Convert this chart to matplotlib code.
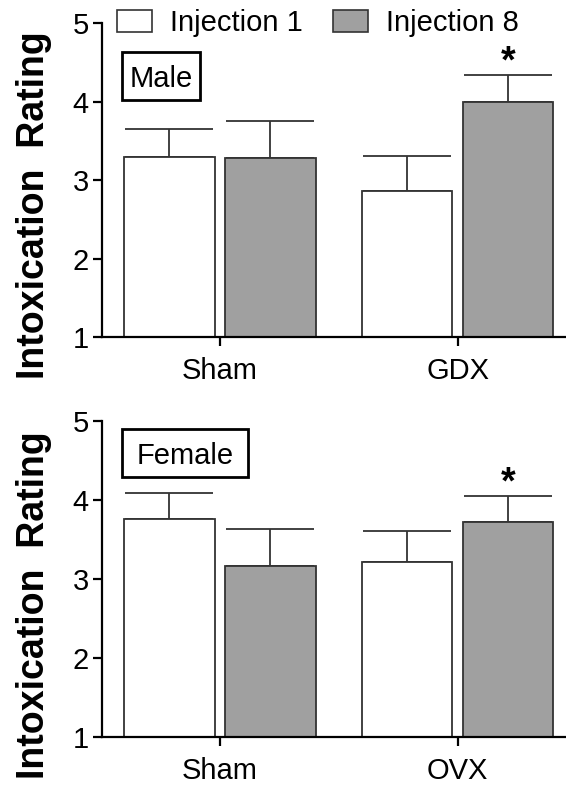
import matplotlib
matplotlib.use("Agg")
import matplotlib.pyplot as plt
from matplotlib.patches import Patch, Rectangle
import numpy as np

plt.rcParams['font.family'] = ['Liberation Sans', 'DejaVu Sans']

# Data
series = ["Injection 1", "Injection 8"]
male_groups = ["Sham", "GDX"]
male_inj1 = [3.30, 2.86]
male_inj1_err = [0.35, 0.45]
male_inj8 = [3.29, 4.00]
male_inj8_err = [0.47, 0.34]
male_sig = [False, True]

female_groups = ["Sham", "OVX"]
female_inj1 = [3.76, 3.21]
female_inj1_err = [0.32, 0.40]
female_inj8 = [3.16, 3.72]
female_inj8_err = [0.47, 0.33]
female_sig = [False, True]

yticks = [1, 2, 3, 4, 5]

W, H = 566, 787
fig = plt.figure(figsize=(W/100, H/100), dpi=100)

colors = ["white", "#a0a0a0"]
edge = "#333333"
bw = 0.379
off = 0.2125

def panel(ax, groups, v1, e1, v8, e8, sig):
    x = np.arange(len(groups))
    for xs, vals, errs, c in [(x - off, v1, e1, colors[0]), (x + off, v8, e8, colors[1])]:
        ax.errorbar(xs, vals, yerr=[np.zeros(len(vals)), errs], fmt='none',
                    ecolor=edge, elinewidth=1.3, capsize=32, capthick=1.3, zorder=1)
        ax.bar(xs, np.array(vals) - 1, bottom=1, width=bw, color=c,
               edgecolor=edge, linewidth=1.3, zorder=2)
    for i, s in enumerate(sig):
        if s:
            top = v8[i] + e8[i]
            ax.text(x[i] + off, top - 0.07, "*", ha='center', va='bottom',
                    fontsize=27, fontweight='bold')
    ax.set_ylim(1, 5)
    ax.set_xlim(-0.4964, 1.456)
    ax.set_yticks(yticks)
    ax.set_xticks(x)
    ax.set_xticklabels(groups)
    for sp in ['top', 'right']:
        ax.spines[sp].set_visible(False)
    for sp in ['left', 'bottom']:
        ax.spines[sp].set_linewidth(1.6)
    ax.tick_params(axis='both', labelsize=21, width=1.6, length=6.5, direction='out')
    ax.tick_params(axis='y', pad=3)
    ax.tick_params(axis='x', pad=8)

left = 102 / W
width = (W - 102) / W
ax1 = fig.add_axes([left, 1 - 337.3 / H, width, (337.3 - 23.3) / H])
ax2 = fig.add_axes([left, 1 - 736.7 / H, width, (736.7 - 420.7) / H])

panel(ax1, male_groups, male_inj1, male_inj1_err, male_inj8, male_inj8_err, male_sig)
panel(ax2, female_groups, female_inj1, female_inj1_err, female_inj8, female_inj8_err, female_sig)

# Tag boxes (pixel boxes from top-left)
def tag(label, x0, y0, x1, y1):
    fig.patches.append(Rectangle((x0 / W, 1 - y1 / H), (x1 - x0) / W, (y1 - y0) / H,
                                 transform=fig.transFigure, facecolor='white',
                                 edgecolor='black', linewidth=2, zorder=5))
    fig.text((x0 + x1) / 2 / W, 1 - (y0 + y1) / 2 / H, label, fontsize=21,
             ha='center', va='center_baseline', zorder=6)

tag("Male", 122, 52, 200.5, 100.3)
tag("Female", 122, 429, 248.3, 477.3)

# Y labels
for yc in [205, 605]:
    fig.text(34 / W, 1 - yc / H, "Intoxication  Rating", rotation=90, fontsize=27,
             fontweight='bold', ha='center', va='center')

# Legend
handles = [Patch(facecolor=colors[0], edgecolor=edge, linewidth=1.2),
           Patch(facecolor=colors[1], edgecolor=edge, linewidth=1.2)]
fig.legend(handles, series, loc='center left', bbox_to_anchor=(116.7 / W, 1 - 23 / H),
           ncol=2, frameon=False, fontsize=21, handlelength=1.2, handleheight=0.78,
           handletextpad=0.62, columnspacing=1.05, borderpad=0, borderaxespad=0)

fig.savefig("out.png", dpi=100)
